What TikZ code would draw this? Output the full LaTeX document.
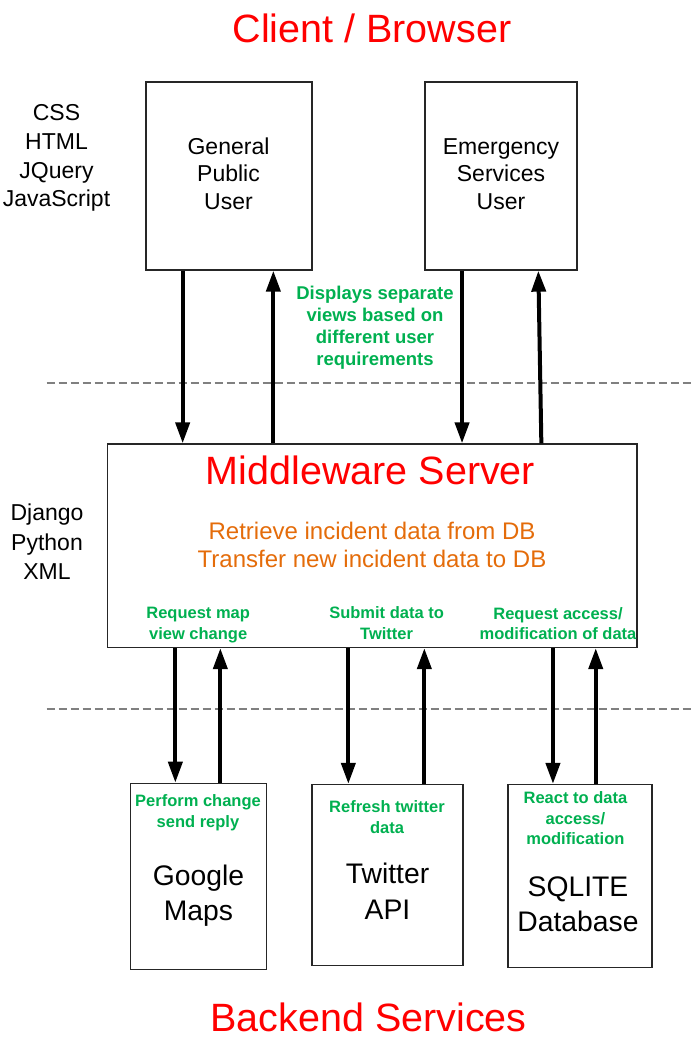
\documentclass[tikz,border=0pt]{standalone}
\usepackage{fontspec}
\setmainfont{Liberation Sans}
\usetikzlibrary{arrows.meta}
\definecolor{tred}{HTML}{FF0000}
\definecolor{tgreen}{HTML}{00B050}
\definecolor{torange}{HTML}{E46C0A}
\begin{document}
\begin{tikzpicture}[x=1pt,y=-1pt,
  box/.style={draw=black!85,line width=1.3pt,minimum width=#1,inner sep=0pt},
  txt/.style={anchor=base,align=center,inner sep=0pt},
  title/.style={txt,text=tred,font=\fontsize{39.5}{44}\selectfont},
  body/.style={txt,font=\fontsize{23}{#1}\selectfont},
  big/.style={txt,font=\fontsize{28.3}{#1}\selectfont},
  note/.style={txt,text=tgreen,font=\bfseries\fontsize{16.5}{#1}\selectfont},
  arr/.style={line width=4pt,-{Triangle[length=21pt,width=14pt]}},
  sep/.style={draw=black!50,line width=2pt,dash pattern=on 8.5pt off 3.5pt}]
\useasboundingbox (0,0) rectangle (691,1045);

% boxes
\node[box=166pt,minimum height=188pt] (gpu) at (229,176) {};
\node[box=152pt,minimum height=188pt] (esu) at (501,176) {};
\node[box=529.5pt,minimum height=203.5pt] (mw) at (372.25,545.75) {};
\node[box=136pt,minimum height=186pt] (gm) at (198.7,876.3) {};
\node[box=151pt,minimum height=181pt] (tw) at (387.5,875) {};
\node[box=144pt,minimum height=182.8pt] (db) at (580,875.9) {};

% dashed separators
\coordinate (s1a) at (46.7,383.3);
\coordinate (s1b) at (691,383.3);
\coordinate (s2a) at (46.7,708.5);
\coordinate (s2b) at (691,708.5);
\draw[sep] (s1a) -- (s1b);
\draw[sep] (s2a) -- (s2b);

% titles
\node[title] (tclient) at (372,42) {Client / Browser};
\node[title] (tmw) at (370.5,484.5) {Middleware Server};
\node[title] (tback) at (368.5,1031.7) {Backend Services};

% side labels (y = baseline of last line)
\node[body=28.7] (lclient) at (56.5,206.8) {CSS\\HTML\\JQuery\\JavaScript};
\node[body=29.3] (lserver) at (47,579.3) {Django\\Python\\XML};

% box texts
\node[body=27.3] (tgpu) at (228.5,209) {General\\Public\\User};
\node[body=27.3] (tesu) at (501,209) {Emergency\\Services\\User};
\node[txt,text=torange,font=\fontsize{24}{28.7}\selectfont] (tmwd) at (372,567.7)
  {Retrieve incident data from DB\\Transfer new incident data to DB};
\node[big=35] (tgm) at (198.5,920) {Google\\Maps};
\node[big=35.7] (ttw) at (387.5,919) {Twitter\\API};
\node[big=35] (tdb) at (578,931.7) {SQLITE\\Database};

% green notes
\node[txt,text=tgreen,font=\bfseries\fontsize{18.5}{22}\selectfont] (nviews) at (375,365.3)
  {Displays separate\\views based on\\different user\\requirements};
\node[note=20.7] (nmap) at (198.2,639) {Request map\\view change};
\node[note=20.7] (ntw) at (386.6,639) {Submit data to\\Twitter};
\node[note=19.5] (ndb) at (558,639.3) {Request access/\\modification of data};
\node[note=20.6] (rgm) at (198,827.3) {Perform change\\send reply};
\node[note=20.6] (rtw) at (387,833.3) {Refresh twitter\\data};
\node[note=20.8] (rdb) at (575.4,844.9) {React to data\\access/\\modification};

% arrows client <-> middleware
\draw[arr] ([xshift=37.3pt]gpu.south west) -- ([xshift=37.3pt]gpu.south west |- mw.north);
\draw[arr] ([xshift=128pt]gpu.south west |- mw.north) -- ([xshift=128pt]gpu.south west);
\draw[arr] ([xshift=37.7pt]esu.south west) -- ([xshift=37.7pt]esu.south west |- mw.north);
\draw[arr] ([xshift=117pt]esu.south west |- mw.north) -- ([xshift=114pt]esu.south west);

% arrows middleware <-> backend
\draw[arr] ([xshift=45.3pt]gm.north west |- mw.south) -- ([xshift=45.3pt]gm.north west);
\draw[arr] ([xshift=90.3pt]gm.north west) -- ([xshift=90.3pt]gm.north west |- mw.south);
\draw[arr] ([xshift=37pt]tw.north west |- mw.south) -- ([xshift=37pt]tw.north west);
\draw[arr] ([xshift=113pt]tw.north west) -- ([xshift=113pt]tw.north west |- mw.south);
\draw[arr] ([xshift=45.6pt]db.north west |- mw.south) -- ([xshift=45.6pt]db.north west);
\draw[arr] ([xshift=88.4pt]db.north west) -- ([xshift=88.4pt]db.north west |- mw.south);
\end{tikzpicture}
\end{document}
